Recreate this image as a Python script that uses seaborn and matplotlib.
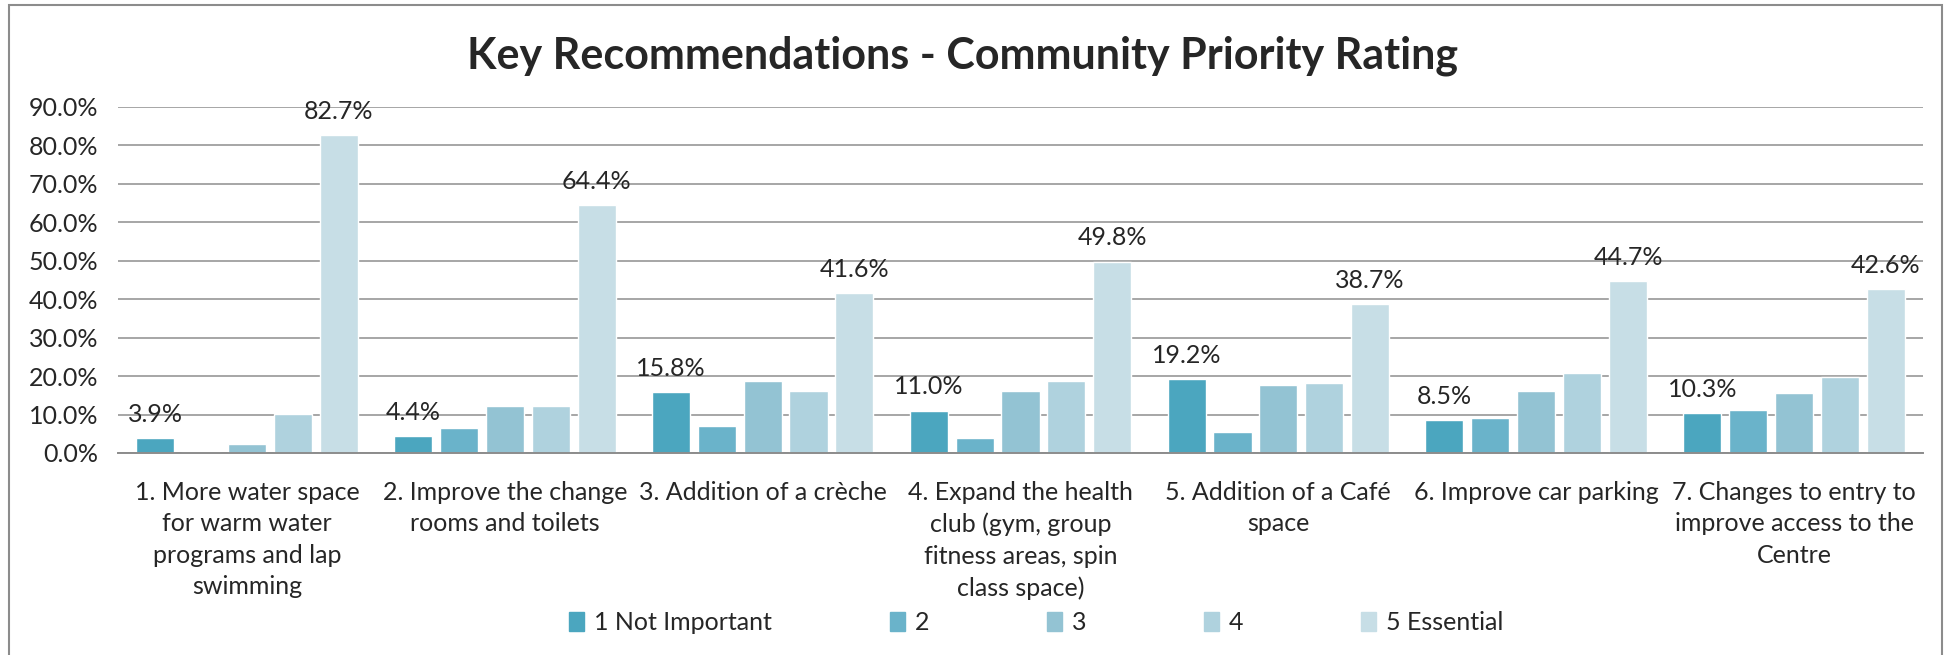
import pandas as pd
import matplotlib.pyplot as plt
import seaborn as sns
from matplotlib.patches import Rectangle
from matplotlib.ticker import PercentFormatter

# data (percent of respondents)
items = ['1. More water space\nfor warm water\nprograms and lap\nswimming',
         '2. Improve the change\nrooms and toilets',
         '3. Addition of a crèche',
         '4. Expand the health\nclub (gym, group\nfitness areas, spin\nclass space)',
         '5. Addition of a Café\nspace',
         '6. Improve car parking',
         '7. Changes to entry to\nimprove access to the\nCentre']
ratings = ['1 Not Important', '2', '3', '4', '5 Essential']
r1 = [3.9, 4.4, 15.8, 11.0, 19.2, 8.5, 10.3]
r2 = [0.3, 6.4, 7.0, 3.9, 5.5, 9.1, 11.2]
r3 = [2.3, 12.2, 18.8, 16.2, 17.7, 16.2, 15.7]
r4 = [10.2, 12.2, 16.2, 18.8, 18.3, 20.9, 19.8]
r5 = [82.7, 64.4, 41.6, 49.8, 38.7, 44.7, 42.6]
colors = ['#4BA6BF', '#6AB3CA', '#93C3D3', '#AFD2DE', '#C7DEE6']

df = pd.DataFrame({'item': items * 5,
                   'rating': [r for r in ratings for _ in items],
                   'pct': r1 + r2 + r3 + r4 + r5})

#%%
sns.set_style('white')
plt.rcParams['font.family'] = ['Lato', 'DejaVu Sans']

fig = plt.figure(figsize=(19.48, 6.55), dpi=100)
ax = fig.add_axes([118 / 1948, 1 - 453 / 655, (1923 - 118) / 1948, (453 - 107) / 655])

sns.barplot(data=df, x='item', y='pct', hue='rating', hue_order=ratings,
            palette=colors, saturation=1, width=0.89, gap=0.17, ax=ax, legend=False)

ax.set_ylim(0, 90)
ax.set_xlim(-0.5, 6.5)
ax.set_yticks(range(0, 91, 10))
ax.yaxis.set_major_formatter(PercentFormatter(100, decimals=1))
ax.grid(axis='y', color='#A6A6A6', linewidth=1.4)
ax.set_axisbelow(True)
for s in ['top', 'right', 'left']:
    ax.spines[s].set_visible(False)
ax.spines['bottom'].set_color('#8C8C8C')
ax.spines['bottom'].set_linewidth(1.4)
ax.tick_params(axis='y', length=0, pad=14, labelsize=18)
ax.tick_params(axis='x', length=0, pad=20, labelsize=18)
for t in ax.get_xticklabels():
    t.set_linespacing(1.45)
ax.set_xlabel('')
ax.set_ylabel('')

# labels only on first and last rating
for idx in [0, 4]:
    ax.bar_label(ax.containers[idx], fmt='%.1f%%', padding=9, fontsize=18)

handles = [Rectangle((0, 0), 1, 1, color=c) for c in colors]
fig.legend(handles, ratings, loc='center', bbox_to_anchor=(0.532, 0.05), ncol=5,
           frameon=False, fontsize=18, handlelength=0.6, handleheight=0.8,
           handletextpad=0.4, columnspacing=4.7)

fig.text(0.494, 1 - 56 / 655, 'Key Recommendations - Community Priority Rating',
         ha='center', va='center', fontsize=31, fontweight='bold')

fig.patches.append(Rectangle((9 / 1948, -0.02), (1942 - 9) / 1948, 1 - 5 / 655 + 0.02,
                             transform=fig.transFigure, fill=False,
                             edgecolor='#8C8C8C', linewidth=1.5))

fig.savefig('out.png', dpi=100)
